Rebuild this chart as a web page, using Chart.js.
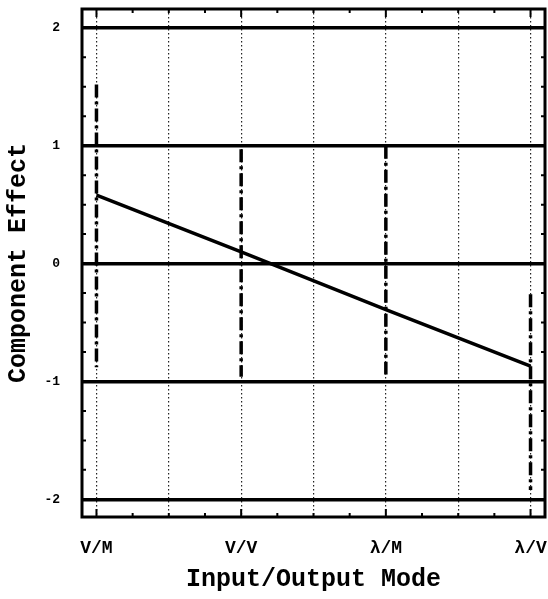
<!DOCTYPE html>
<html>
<head>
<meta charset="utf-8">
<script src="https://cdn.jsdelivr.net/npm/chart.js@4.4.0/dist/chart.umd.min.js"></script>
<style>
  html, body { margin: 0; padding: 0; background: #fff; }
  #wrap { width: 548px; height: 599px; }
</style>
</head>
<body>
<div id="wrap"><canvas id="effectChart" width="548" height="599"></canvas></div>
<script>
var modes = ['V/M', 'V/V', '\u03bb/M', '\u03bb/V'];
var modePos = [0, 1, 2, 3];
var effect = [0.58, 0.10, -0.39, -0.87];
var rangeHigh = [1.52, 0.97, 1.00, -0.26];
var rangeLow = [-0.88, -0.96, -0.94, -1.92];
var yTicks = [-2, -1, 0, 1, 2];

var ink = '#000';
var monoFont = "'Liberation Mono', 'DejaVu Sans Mono', monospace";

var datasets = [];

// the effect line
datasets.push({
  data: modePos.map(function (x, i) { return { x: x, y: effect[i] }; }),
  borderColor: ink,
  borderWidth: 3.5,
  pointRadius: 0,
  tension: 0
});

// dash-dot range bars at each mode
modePos.forEach(function (x, i) {
  datasets.push({
    data: [{ x: x, y: rangeHigh[i] }, { x: x, y: rangeLow[i] }],
    borderColor: ink,
    borderWidth: 3.5,
    borderDash: [13, 4, 3, 4],
    pointRadius: 0
  });
});

// frame and small inward ticks
var framePlugin = {
  id: 'frame',
  afterDraw: function (chart) {
    var ctx = chart.ctx;
    var a = chart.chartArea;
    var xs = chart.scales.x;
    var ys = chart.scales.y;
    ctx.save();
    ctx.strokeStyle = ink;
    ctx.lineWidth = 3;
    ctx.strokeRect(a.left, a.top, a.right - a.left, a.bottom - a.top);
    ctx.lineWidth = 2;
    for (var v = 0; v <= 3.001; v += 0.25) {
      var px = xs.getPixelForValue(v);
      var len = (Math.abs(v - Math.round(v)) < 0.01) ? 8 : 4;
      ctx.beginPath();
      ctx.moveTo(px, a.bottom); ctx.lineTo(px, a.bottom - len);
      ctx.moveTo(px, a.top); ctx.lineTo(px, a.top + len);
      ctx.stroke();
    }
    for (var w = -2; w <= 2.001; w += 0.25) {
      var py = ys.getPixelForValue(w);
      ctx.beginPath();
      ctx.moveTo(a.left, py); ctx.lineTo(a.left + 4, py);
      ctx.moveTo(a.right, py); ctx.lineTo(a.right - 4, py);
      ctx.stroke();
    }
    ctx.restore();
  }
};

new Chart(document.getElementById('effectChart'), {
  type: 'line',
  data: { datasets: datasets },
  options: {
    responsive: false,
    animation: false,
    layout: { padding: { top: 9, right: 3, left: 0, bottom: 0 } },
    plugins: { legend: { display: false }, tooltip: { enabled: false } },
    scales: {
      x: {
        type: 'linear',
        min: -0.1,
        max: 3.1,
        afterBuildTicks: function (scale) {
          scale.ticks = [0, 0.5, 1, 1.5, 2, 2.5, 3].map(function (v) { return { value: v }; });
        },
        afterFit: function (scale) {
          scale.height = 82;
          scale.paddingLeft = 0;
          scale.paddingRight = 0;
        },
        ticks: {
          autoSkip: false,
          maxRotation: 0,
          padding: 21,
          color: ink,
          font: { family: monoFont, size: 18, weight: 'bold' },
          callback: function (v) {
            var i = modePos.indexOf(v);
            return i >= 0 ? modes[i] : '';
          }
        },
        grid: {
          color: '#222',
          lineWidth: 1.2,
          drawTicks: false
        },
        border: { display: false, dash: [1.5, 2.5] },
        title: {
          display: true,
          text: 'Input/Output Mode',
          color: ink,
          font: { family: monoFont, size: 25, weight: 'bold' },
          padding: { top: 4 }
        }
      },
      y: {
        min: -2.15,
        max: 2.16,
        afterBuildTicks: function (scale) {
          scale.ticks = yTicks.map(function (v) { return { value: v }; });
        },
        afterFit: function (scale) {
          scale.width = 82;
          scale.paddingTop = 0;
          scale.paddingBottom = 0;
        },
        ticks: {
          color: ink,
          padding: 22,
          font: { family: monoFont, size: 13, weight: 'bold' }
        },
        grid: {
          color: ink,
          lineWidth: 3.5,
          drawTicks: false
        },
        border: { display: false },
        title: {
          display: true,
          text: 'Component Effect',
          color: ink,
          font: { family: monoFont, size: 25, weight: 'bold' },
          padding: { bottom: 0 }
        }
      }
    }
  },
  plugins: [framePlugin]
});
</script>
</body>
</html>
